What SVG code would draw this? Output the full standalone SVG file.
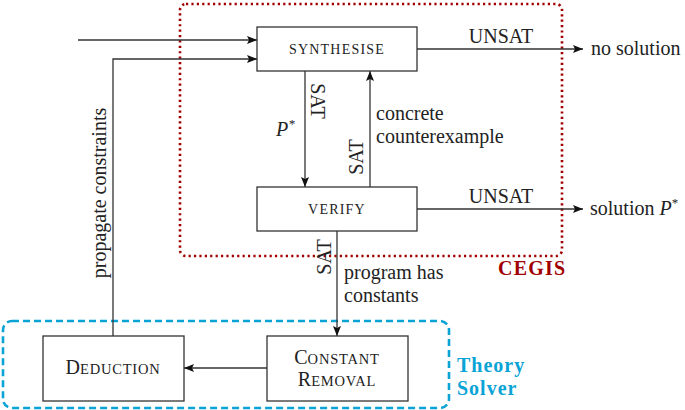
<svg xmlns="http://www.w3.org/2000/svg" width="685" height="410" viewBox="0 0 685 410">
<defs>
<marker id="ah" viewBox="0 0 10 8" refX="10" refY="4" markerWidth="10" markerHeight="8" markerUnits="userSpaceOnUse" orient="auto">
<path d="M0,0 L10,4 L0,8 L2,4 Z" fill="#111"/>
</marker>
</defs>
<rect x="180" y="4" width="382" height="252" rx="6" fill="none" stroke="#a00000" stroke-width="2.6" stroke-dasharray="2.2 3.2"/>
<rect x="3" y="321" width="446" height="87" rx="9" fill="none" stroke="#0aa3d6" stroke-width="2.6" stroke-dasharray="7 4"/>
<g id="connectors">
<g fill="none" stroke="#333" stroke-width="1.3" marker-end="url(#ah)">
<line x1="78" y1="40" x2="257" y2="40"/>
<polyline points="113,336 113,59 257,59"/>
<line x1="417" y1="49" x2="583" y2="49"/>
<line x1="305" y1="71" x2="305" y2="187"/>
<line x1="370" y1="187" x2="370" y2="71"/>
<line x1="417" y1="209" x2="583" y2="209"/>
<line x1="337" y1="231" x2="337" y2="336"/>
<line x1="267" y1="368" x2="184" y2="368"/>
</g>
<g font-family="Liberation Serif" font-size="20" fill="#222">
<text x="501" y="43" text-anchor="middle">UNSAT</text>
<text x="591" y="55">no solution</text>
<text transform="translate(311,101) rotate(90)" text-anchor="middle">SAT</text>
<text x="276" y="136" font-style="italic">P<tspan font-size="13" dy="-8">*</tspan></text>
<text transform="translate(363,157) rotate(-90)" text-anchor="middle">SAT</text>
<text x="376" y="120">concrete</text>
<text x="376" y="143">counterexample</text>
<text x="501" y="203" text-anchor="middle">UNSAT</text>
<text x="590" y="215">solution <tspan font-style="italic">P</tspan><tspan font-size="13" dy="-8">*</tspan></text>
<text transform="translate(331,257) rotate(-90)" text-anchor="middle">SAT</text>
<text x="344" y="279">program has</text>
<text x="344" y="302">constants</text>
<text transform="translate(106,193) rotate(-90)" text-anchor="middle">propagate constraints</text>
</g>
</g>
<g font-family="Liberation Serif" fill="#222">
<g id="synthesise">
<rect x="257" y="27" width="160" height="44" fill="#fff" stroke="#333" stroke-width="1.3"/>
<text x="337" y="54" text-anchor="middle" font-size="14" letter-spacing="1.2">SYNTHESISE</text>
</g>
<g id="verify">
<rect x="257" y="187" width="160" height="44" fill="#fff" stroke="#333" stroke-width="1.3"/>
<text x="337" y="214" text-anchor="middle" font-size="14" letter-spacing="1.2">VERIFY</text>
</g>
<g id="deduction">
<rect x="43" y="336" width="141" height="65" fill="#fff" stroke="#333" stroke-width="1.3"/>
<text x="113" y="374" text-anchor="middle" font-size="20">D<tspan font-size="14.5" letter-spacing="0.8">EDUCTION</tspan></text>
</g>
<g id="constant-removal">
<rect x="267" y="336" width="141" height="65" fill="#fff" stroke="#333" stroke-width="1.3"/>
<text x="337" y="364" text-anchor="middle" font-size="20">C<tspan font-size="14.5" letter-spacing="0.8">ONSTANT</tspan></text>
<text x="337" y="386" text-anchor="middle" font-size="20">R<tspan font-size="14.5" letter-spacing="0.8">EMOVAL</tspan></text>
</g>
</g>
<g id="cegis-label" font-family="Liberation Serif" font-weight="bold" font-size="20" letter-spacing="1.2">
<text x="498" y="275" fill="#a00000">CEGIS</text>
</g>
<g id="theory-label" font-family="Liberation Serif" font-weight="bold" font-size="20" letter-spacing="1" fill="#0aa3d6">
<text x="457" y="372">Theory</text>
<text x="457" y="395">Solver</text>
</g>
</svg>
